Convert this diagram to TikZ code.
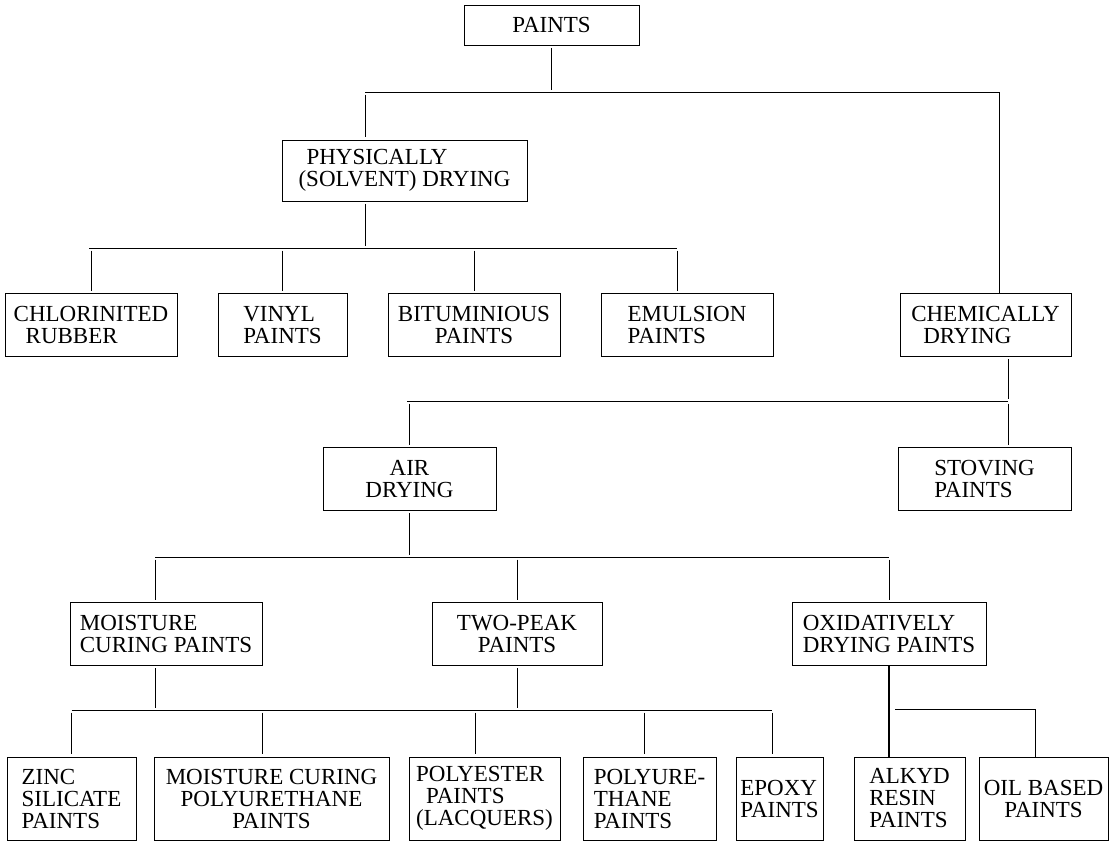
\documentclass[tikz,border=0pt]{standalone}
\usepackage{fontspec}
\setmainfont{Liberation Serif}
\begin{document}
\begin{tikzpicture}[x=1pt, y=-1pt, node distance=200pt]

% Styles
\tikzstyle{block} = [draw, rectangle, line width=0.8pt, minimum height=63pt, inner sep=3pt, align=left, font=\fontsize{23}{22}\selectfont]
\tikzstyle{leaf}  = [block, minimum height=83pt]
\tikzstyle{joint} = [coordinate]
\tikzstyle{bus}   = [draw, line width=0.8pt]
\tikzstyle{wire}  = [draw, line width=0.8pt, shorten <=2.5pt, shorten >=2.5pt]

\useasboundingbox (0,0) rectangle (1116,844);

% Nodes
\node [block, minimum width=175pt, minimum height=40pt, align=center] (paints) at (551.5,25) {PAINTS};
\node [block, minimum width=245pt, minimum height=61pt] (phys) at (404.5,170.5) {\hspace*{8pt}PHYSICALLY\\(SOLVENT) DRYING};

% Second row
\node [block, minimum width=172pt] (chlor) at (91,325) {CHLORINITED\\\hspace*{12pt}RUBBER};
\node [block, minimum width=129pt, right of=chlor, node distance=191.5pt] (vinyl) {VINYL\\PAINTS};
\node [block, minimum width=172pt, right of=vinyl, node distance=191.5pt, align=center] (bitum) {BITUMINIOUS\\PAINTS};
\node [block, minimum width=172pt, right of=bitum, node distance=213pt] (emuls) {EMULSION\\PAINTS};
\node [block, minimum width=171pt, right of=emuls, node distance=298.5pt] (chem) {CHEMICALLY\\\hspace*{12pt}DRYING};

% Third row
\node [block, minimum width=173pt, align=center] (air) at (409.5,479) {AIR\\DRYING};
\node [block, minimum width=173pt, right of=air, node distance=575pt] (stov) {STOVING\\PAINTS};

% Fourth row
\node [block, minimum width=192pt] (moist) at (166,634) {MOISTURE\\CURING PAINTS};
\node [block, minimum width=170pt, right of=moist, node distance=351pt, align=center] (twopk) {TWO-PEAK\\PAINTS};
\node [block, minimum width=194pt, right of=twopk, node distance=372pt] (oxid) {OXIDATIVELY\\DRYING PAINTS};

% Bottom row
\node [leaf, minimum width=129pt] (zinc) at (71.5,798.5) {ZINC\\SILICATE\\PAINTS};
\node [leaf, minimum width=235pt, right of=zinc, node distance=200pt, align=center] (mcpu) {MOISTURE CURING\\POLYURETHANE\\PAINTS};
\node [leaf, minimum width=151pt, right of=mcpu, node distance=213pt] (polyes) {POLYESTER\\\hspace*{10pt}PAINTS\\(LACQUERS)};
\node [leaf, minimum width=133pt, right of=polyes, node distance=165pt] (polyur) {POLYURE-\\THANE\\PAINTS};
\node [leaf, minimum width=87pt, right of=polyur, node distance=130pt] (epoxy) {EPOXY\\PAINTS};
\node [leaf, minimum width=111pt, right of=epoxy, node distance=130pt] (alkyd) {ALKYD\\RESIN\\PAINTS};
\node [leaf, minimum width=129pt, right of=alkyd, node distance=134pt, align=center] (oil) {OIL BASED\\PAINTS};

% Bus coordinates
\node [joint] (bus1_l) at (365,92) {};
\node [joint] (bus1_r) at (999,92) {};
\node [joint] (bus2_l) at (89,248) {};
\node [joint] (bus2_r) at (677,248) {};
\node [joint] (bus3_l) at (407,401) {};
\node [joint] (bus3_r) at (1008,401) {};
\node [joint] (bus4_l) at (155,557) {};
\node [joint] (bus4_r) at (889,557) {};
\node [joint] (bus5_l) at (71.5,710) {};
\node [joint] (bus5_b) at (262,710) {};
\node [joint] (bus5_c) at (475,710) {};
\node [joint] (bus5_d) at (644,710) {};
\node [joint] (bus5_r) at (772,710) {};
\node [joint] (bus6_l) at (895,709) {};
\node [joint] (bus6_r) at (1035,709) {};

% Paints
\draw [wire] (paints) -- (paints |- bus1_l);
\draw [bus] (bus1_l) -- (bus1_r) -- (bus1_r |- chem.north);
\draw [wire] (bus1_l) -- (bus1_l |- phys.north);

% Physically drying
\draw [wire] (bus1_l |- phys.south) -- (bus1_l |- bus2_l);
\draw [bus] (bus2_l) -- (bus2_r);
\draw [wire] (chlor.north |- bus2_l) -- (chlor.north);
\draw [wire] (vinyl.north |- bus2_l) -- (vinyl.north);
\draw [wire] (bitum.north |- bus2_l) -- (bitum.north);
\draw [wire] (bus2_r) -- (bus2_r |- emuls.north);

% Chemically drying
\draw [wire] (bus3_r |- chem.south) -- (bus3_r);
\draw [bus] (bus3_l) -- (bus3_r);
\draw [wire] (air.north |- bus3_l) -- (air.north);
\draw [wire] (bus3_r) -- (bus3_r |- stov.north);

% Air drying
\draw [wire] (air) -- (air |- bus4_l);
\draw [bus] (bus4_l) -- (bus4_r);
\draw [wire] (bus4_l) -- (bus4_l |- moist.north);
\draw [wire] (twopk.north |- bus4_l) -- (twopk.north);
\draw [wire] (bus4_r) -- (oxid.north);

% Moisture curing and two-peak
\draw [wire] (bus4_l |- moist.south) -- (bus4_l |- bus5_l);
\draw [wire] (twopk) -- (twopk |- bus5_l);
\draw [bus] (bus5_l) -- (bus5_r);
\draw [wire] (bus5_l) -- (zinc.north);
\draw [wire] (bus5_b) -- (bus5_b |- mcpu.north);
\draw [wire] (bus5_c) -- (bus5_c |- polyes.north);
\draw [wire] (bus5_d) -- (bus5_d |- polyur.north);
\draw [wire] (bus5_r) -- (bus5_r |- epoxy.north);

% Oxidatively drying
\draw [draw, line width=1.6pt] (oxid) -- (oxid |- alkyd.north);
\draw [bus] (bus6_l) -- (bus6_r) -- (bus6_r |- oil.north);

\end{tikzpicture}
\end{document}
